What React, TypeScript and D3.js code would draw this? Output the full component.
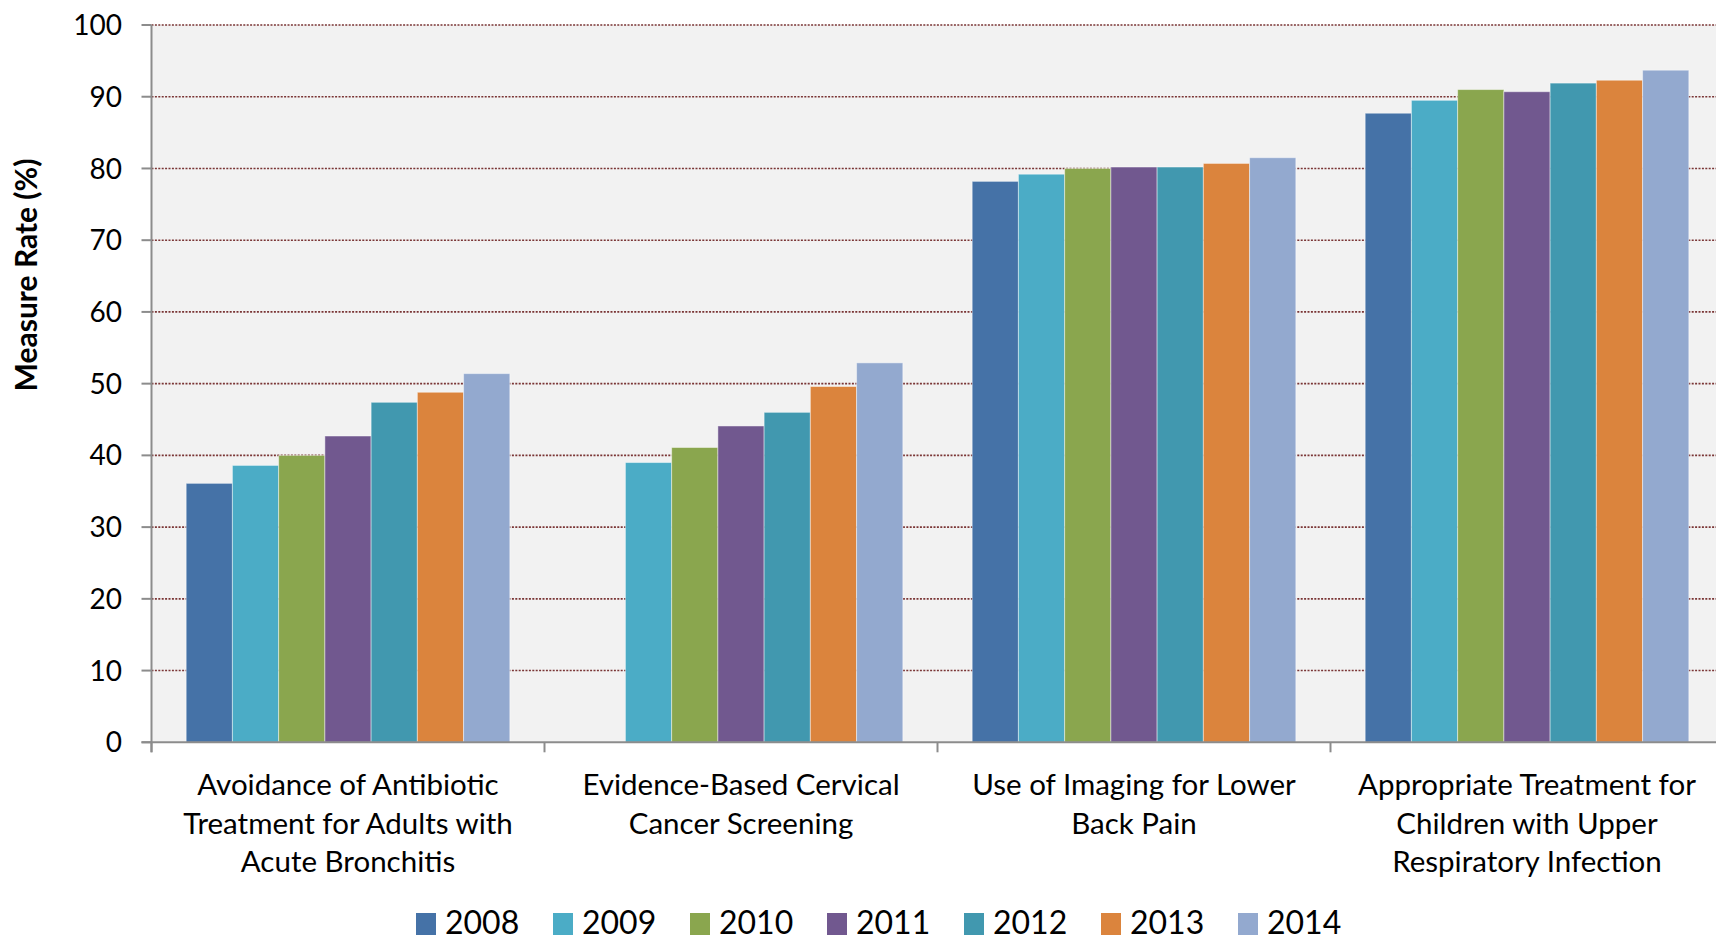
import { useEffect, useRef } from "react";
import * as d3 from "d3";

const categories = [
  "Avoidance of Antibiotic|Treatment for Adults with|Acute Bronchitis",
  "Evidence-Based Cervical|Cancer Screening",
  "Use of Imaging for Lower|Back Pain",
  "Appropriate Treatment for|Children with Upper|Respiratory Infection",
];

const years = ["2008", "2009", "2010", "2011", "2012", "2013", "2014"];

// one array per year, values in category order (null = no data)
const v2008 = [36.1, null, 78.2, 87.7];
const v2009 = [38.6, 39.0, 79.2, 89.5];
const v2010 = [40.0, 41.1, 80.0, 91.0];
const v2011 = [42.7, 44.1, 80.2, 90.7];
const v2012 = [47.4, 46.0, 80.2, 91.9];
const v2013 = [48.8, 49.6, 80.7, 92.3];
const v2014 = [51.4, 52.9, 81.5, 93.7];

const yTicks = [0, 10, 20, 30, 40, 50, 60, 70, 80, 90, 100];

const colors = ["#4572a7", "#4bacc6", "#8aa64e", "#71588f", "#4198af", "#db843d", "#93a9cf"];

const W = 1716;
const H = 942;
const FONT = "Lato, 'Open Sans', sans-serif";

const App = () => {
  const ref = useRef<SVGSVGElement>(null);

  useEffect(() => {
    const svg = d3.select(ref.current);
    svg.selectAll("*").remove();

    const series = [v2008, v2009, v2010, v2011, v2012, v2013, v2014];
    const left = 151.5;
    const top = 25;
    const bottom = 742.3;
    const catW = 393;

    const x0 = d3
      .scaleBand()
      .domain(categories)
      .range([left, left + catW * categories.length])
      .padding(0);
    const x1 = d3
      .scaleBand()
      .domain(years)
      .range([0, x0.bandwidth()])
      .paddingInner(0)
      .paddingOuter(0.75);
    const y = d3.scaleLinear().domain([0, 100]).range([bottom, top]);

    // fondo del área de trazado
    svg
      .append("rect")
      .attr("x", left)
      .attr("y", top)
      .attr("width", W - left)
      .attr("height", bottom - top)
      .attr("fill", "#f2f2f2");

    // líneas de cuadrícula punteadas
    svg
      .append("g")
      .selectAll("line")
      .data(yTicks.filter((d) => d > 0))
      .enter()
      .append("line")
      .attr("x1", left)
      .attr("x2", W)
      .attr("y1", (d) => y(d))
      .attr("y2", (d) => y(d))
      .attr("stroke", "#7a3535")
      .attr("stroke-width", 1.6)
      .attr("stroke-dasharray", "2,1.4");

    // barras
    const groups = svg
      .append("g")
      .selectAll("g")
      .data(categories)
      .enter()
      .append("g")
      .attr("transform", (d) => `translate(${x0(d)},0)`);

    groups
      .selectAll("rect")
      .data((_, ci) =>
        years
          .map((yr, si) => ({ yr, si, v: series[si][ci] }))
          .filter((d) => d.v !== null)
      )
      .enter()
      .append("rect")
      .attr("x", (d) => x1(d.yr)!)
      .attr("y", (d) => y(d.v as number))
      .attr("width", x1.bandwidth())
      .attr("height", (d) => bottom - y(d.v as number))
      .attr("fill", (d) => colors[d.si])
      .attr("stroke", "rgba(255,255,255,0.45)")
      .attr("stroke-width", 1);

    // ejes
    const axisColor = "#8c8c8c";
    svg
      .append("line")
      .attr("x1", left)
      .attr("x2", left)
      .attr("y1", top)
      .attr("y2", bottom + 10)
      .attr("stroke", axisColor)
      .attr("stroke-width", 2);
    svg
      .append("line")
      .attr("x1", left - 10)
      .attr("x2", W)
      .attr("y1", bottom)
      .attr("y2", bottom)
      .attr("stroke", axisColor)
      .attr("stroke-width", 2);

    const yTickG = svg
      .append("g")
      .selectAll("g")
      .data(yTicks)
      .enter()
      .append("g");
    yTickG
      .append("line")
      .attr("x1", left - 10)
      .attr("x2", left)
      .attr("y1", (d) => y(d))
      .attr("y2", (d) => y(d))
      .attr("stroke", axisColor)
      .attr("stroke-width", 2);
    yTickG
      .append("text")
      .attr("x", 122)
      .attr("y", (d) => y(d))
      .attr("dy", "0.36em")
      .attr("text-anchor", "end")
      .attr("font-family", FONT)
      .attr("font-size", 28)
      .attr("fill", "#000")
      .text((d) => d);

    // marcas de categoría
    svg
      .append("g")
      .selectAll("line")
      .data(categories)
      .enter()
      .append("line")
      .attr("x1", (d) => x0(d)!)
      .attr("x2", (d) => x0(d)!)
      .attr("y1", bottom)
      .attr("y2", bottom + 10)
      .attr("stroke", axisColor)
      .attr("stroke-width", 2);

    // etiquetas de categoría
    const catText = svg
      .append("g")
      .selectAll("text")
      .data(categories)
      .enter()
      .append("text")
      .attr("text-anchor", "middle")
      .attr("font-family", FONT)
      .attr("font-size", 29.5)
      .attr("fill", "#000");
    catText
      .selectAll("tspan")
      .data((d) => d.split("|").map((line) => ({ line, cx: x0(d)! + x0.bandwidth() / 2 })))
      .enter()
      .append("tspan")
      .attr("x", (d) => d.cx)
      .attr("y", (_, i) => 795 + i * 38.5)
      .text((d) => d.line);

    // título del eje Y
    svg
      .append("text")
      .attr("transform", `translate(37,275) rotate(-90)`)
      .attr("text-anchor", "middle")
      .attr("font-family", FONT)
      .attr("font-size", 30)
      .attr("font-weight", "bold")
      .attr("fill", "#000")
      .text("Measure Rate (%)");

    // leyenda
    const legend = svg
      .append("g")
      .selectAll("g")
      .data(years)
      .enter()
      .append("g")
      .attr("transform", (_, i) => `translate(${416 + i * 137},0)`);
    legend
      .append("rect")
      .attr("x", 0)
      .attr("y", 913)
      .attr("width", 20)
      .attr("height", 22)
      .attr("fill", (_, i) => colors[i]);
    legend
      .append("text")
      .attr("x", 29)
      .attr("y", 934)
      .attr("font-family", FONT)
      .attr("font-size", 32)
      .attr("fill", "#000")
      .text((d) => d);
  }, []);

  return (
    <svg
      ref={ref}
      width={W}
      height={H}
      style={{ position: "absolute", left: 0, top: 0, background: "#fff" }}
    />
  );
};

export default App;
